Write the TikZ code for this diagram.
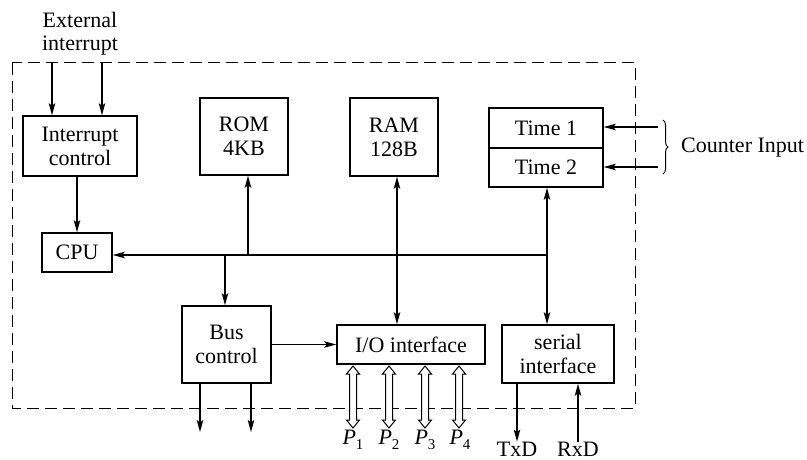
\documentclass[tikz,border=0pt]{standalone}
\usepackage{fontspec}
\setmainfont{Liberation Serif}
\usetikzlibrary{arrows.meta,decorations.pathreplacing,calc}
\newcommand\dblarr[3]{\draw[dbl] (#1,#2) -- (#1+6.5,#2+8) -- (#1+3.5,#2+8) -- (#1+3.5,#3-8) -- (#1+6.5,#3-8) -- (#1,#3) -- (#1-6.5,#3-8) -- (#1-3.5,#3-8) -- (#1-3.5,#2+8) -- (#1-6.5,#2+8) -- cycle;}
\begin{document}
\begin{tikzpicture}[x=1pt,y=-1pt,
  box/.style={draw,line width=1.6pt,inner sep=0pt,align=center,font=\fontsize{22}{24}\selectfont},
  conn/.style={line width=1.1pt,-{Stealth[length=12pt,width=6.5pt,inset=2.5pt]}},
  conn2/.style={line width=1.1pt,{Stealth[length=12pt,width=6.5pt,inset=2.5pt]}-{Stealth[length=12pt,width=6.5pt,inset=2.5pt]}},
  lbl/.style={font=\fontsize{22}{23}\selectfont,align=center,inner sep=0pt},
  dbl/.style={line width=1pt,fill=white}]
\useasboundingbox (0,0) rectangle (807,460);
\draw[line width=1pt,dash pattern=on 12pt off 6pt] (12,63) rectangle (635,408);

% blocks
\node[box,minimum width=114pt,minimum height=60pt] (ic) at (80,146) {Interrupt\\control};
\node[box,minimum width=88pt,minimum height=77pt] (rom) at (244,136.5) {ROM\\4KB};
\node[box,minimum width=88pt,minimum height=78pt] (ram) at (394,137) {RAM\\128B};
\node[box,minimum width=114pt,minimum height=40pt] (t1) at (546,128) {Time 1};
\node[box,minimum width=114pt,minimum height=39pt] (t2) at (546,167.5) {Time 2};
\node[box,minimum width=70pt,minimum height=39pt] (cpu) at (77,252.5) {CPU};
\node[box,minimum width=89pt,minimum height=77pt] (bc) at (226.5,344.5) {Bus\\control};
\node[box,minimum width=148pt,minimum height=39pt] (io) at (411,344.5) {I/O interface};
\node[box,minimum width=112pt,minimum height=58pt] (si) at (558,354) {serial\\interface};

% labels
\node[lbl] (ext) at (80,34) {External\\interrupt};
\node[lbl,anchor=west] (ci) at (681,148) {Counter Input};
\node[lbl] (p1) at (353,440) {\textit{P}\raisebox{-0.45ex}{\fontsize{15}{15}\selectfont 1}};
\node[lbl] (p2) at (389,440) {\textit{P}\raisebox{-0.45ex}{\fontsize{15}{15}\selectfont 2}};
\node[lbl] (p3) at (425,440) {\textit{P}\raisebox{-0.45ex}{\fontsize{15}{15}\selectfont 3}};
\node[lbl] (p4) at (460,440) {\textit{P}\raisebox{-0.45ex}{\fontsize{15}{15}\selectfont 4}};
\node[lbl] (txd) at (517,449) {TxD};
\node[lbl] (rxd) at (578,449) {RxD};

% external interrupt
\coordinate (e1) at (52,63);
\coordinate (e2) at (102,63);
\draw[conn] (e1) -- (e1 |- ic.north);
\draw[conn] (e2) -- (e2 |- ic.north);

% interrupt control -> CPU
\draw[conn] (ic.south -| cpu.north) -- (cpu.north);

% bus
\coordinate (busR) at (547,255);
\coordinate (jrom) at (248,255);
\coordinate (jbc) at (225,255);
\coordinate (jram) at (397,255);
\draw[conn] (busR) -- (cpu.east |- busR);
\draw[conn] (jrom) -- (jrom |- rom.south);
\draw[conn] (jbc) -- (jbc |- bc.north);
\draw[conn2] (jram |- ram.south) -- (jram |- io.north);
\draw[conn2] (busR |- t2.south) -- (busR |- si.north);

% bus control -> I/O
\draw[conn] (bc.east) -- (io.west);

% bus control outputs
\coordinate (o1) at (200,432);
\coordinate (o2) at (251,432);
\draw[conn] (o1 |- bc.south) -- (o1);
\draw[conn] (o2 |- bc.south) -- (o2);

% counter inputs
\coordinate (c1) at (658,127);
\coordinate (c2) at (658,167);
\draw[conn] (c1) -- (c1 -| t1.east);
\draw[conn] (c2) -- (c2 -| t2.east);
\draw[line width=1pt,decorate,decoration={brace,amplitude=5pt}] (663,120) -- (663,174);

% P ports
\dblarr{353}{366}{428}
\dblarr{389}{366}{428}
\dblarr{425}{366}{428}
\dblarr{459}{366}{428}

% serial lines
\draw[conn] (txd.north |- si.south) -- (txd.north);
\draw[conn] (rxd.north) -- (rxd.north |- si.south);
\end{tikzpicture}
\end{document}
